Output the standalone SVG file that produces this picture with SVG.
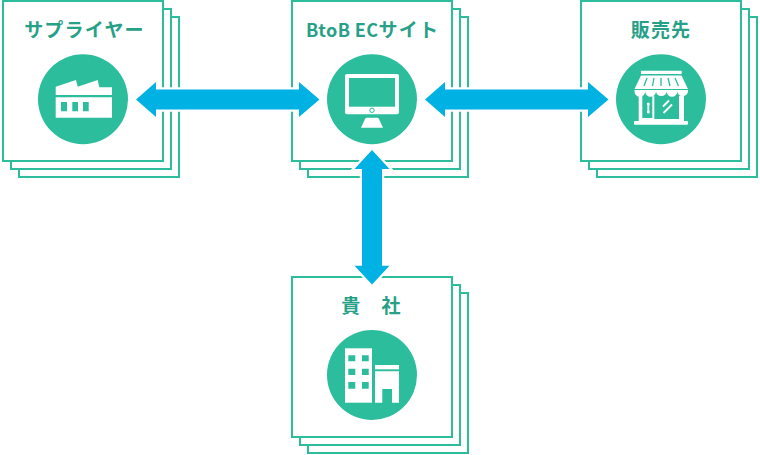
<svg xmlns="http://www.w3.org/2000/svg" width="760" height="455" viewBox="0 0 760 455">
<defs>
<style>
.s{fill:#fff;stroke:#2bbd9c;stroke-width:2}
.c{fill:#2bbd9c}
.w{fill:#fff}
.t{fill:#2bbd9c}
.l{font-family:"Noto Sans CJK JP","Noto Sans",sans-serif;font-weight:700;font-size:19px;fill:#27a088;text-anchor:middle;letter-spacing:1.2px}
.lat{letter-spacing:0.4px;font-size:18px}
.a{fill:#00b2e3;stroke:#fff;stroke-width:4.5;paint-order:stroke;stroke-linejoin:miter}
.ln{stroke:#2bbd9c;stroke-width:1.3;fill:none}
</style>
<g id="stack"><rect class="s" x="17" y="17" width="160" height="160"/><rect class="s" x="9" y="9" width="160" height="160"/><rect class="s" x="1" y="1" width="160" height="160"/></g>
</defs>
<rect width="760" height="455" fill="#fff"/>
<g id="supplier">
<use href="#stack" x="2"/>
<text class="l" x="84.500" y="37">サプライヤー</text>
<circle class="c" cx="83" cy="99.3" r="45"/>
<path class="w" d="M55.7 86.7L76 80L77.7 86.7L97.7 80L99.3 87.3H112V95H55.7Z"/>
<path class="w" d="M55.7 97.3H112V117.7H55.7Z"/>
<path class="t" d="M61 102h6v9.3h-6zM72.3 102h5.7v9.3h-5.7zM83 102h5.7v9.3h-5.7z"/>
</g>
<g id="btob">
<use href="#stack" x="291"/>
<text class="l" x="372.500" y="37"><tspan class="lat">BtoB EC</tspan>サイト</text>
<circle class="c" cx="372" cy="99.3" r="45"/>
<rect class="w" x="345" y="74" width="54" height="40.300" rx="2"/>
<rect class="t" x="349" y="78" width="46" height="28.700"/>
<circle cx="372" cy="110.300" r="2.200" fill="#fff" stroke="#2bbd9c" stroke-width="1"/>
<path class="w" d="M361 127.700L365 119Q365.500 117.700 367 117.700H377Q378.500 117.700 379 119L383 127.700Z"/>
</g>
<g id="hanbaisaki">
<use href="#stack" x="580"/>
<text class="l" x="661" y="37">販売先</text>
<circle class="c" cx="661" cy="99.3" r="45"/>
<rect class="w" x="641" y="70.700" width="40.700" height="3.300" rx="0.500"/>
<path class="w" d="M641 75.500H681.500L688 89H634.500Z"/>
<path class="ln" d="M647 78L644 86M654 78L652.500 86M661 78V86M668 78L670 86M675 78L678.500 86"/>
<path class="w" d="M634.500 90H688V91.500A5.400 5.200 0 0 1 677.300 91.500A5.300 5.200 0 0 1 666.700 91.500A5.400 5.200 0 0 1 656 91.500A5.400 5.200 0 0 1 645.200 91.500A5.350 5.200 0 0 1 634.500 91.500Z"/>
<path class="w" d="M638.700 94.500L642.300 96V121H638.700ZM652.300 96.500L654.300 96V121H652.300ZM679 96L684 94.500V121H679Z"/>
<rect class="w" x="642" y="118" width="11" height="3"/>
<rect class="w" x="654" y="119" width="26" height="2"/>
<path d="M648.300 104V112" stroke="#fff" stroke-width="1.800"/>
<circle class="w" cx="648.300" cy="104" r="1.500"/><circle class="w" cx="648.300" cy="112" r="1.500"/>
<path d="M663 106.500L669 100.500M663.500 113L672 104.500" stroke="#fff" stroke-width="2" fill="none"/>
<rect class="w" x="634" y="121" width="54" height="3.700" rx="1"/>
</g>
<g id="kisha">
<use href="#stack" x="291" y="276"/>
<text class="l" x="371.500" y="313" xml:space="preserve">貴　社</text>
<circle class="c" cx="372" cy="375" r="45"/>
<rect class="w" x="345" y="348.300" width="27" height="54.400"/>
<path class="t" d="M348.300 355.300h7v6h-7zM362 355.300h6.700v6h-6.700zM348.300 368.700h7v6.300h-7zM362 368.700h6.700v6.300h-6.700zM348.300 382h7v6.700h-7zM362 382h6.700v6.700h-6.700z"/>
<rect class="w" x="375" y="365" width="24" height="4.300"/>
<path class="w" d="M375 371.300H399V402.700H392V389H382.300V402.700H375Z"/>
</g>
<g id="connectors">
<path id="c1" class="a" d="M136 99.500L156 82V89.500H299V82L319.500 99.500L299 117V109.500H156V117Z"/>
<path id="c2" class="a" d="M425 99.500L445 82V89.500H588V82L608.500 99.500L588 117V109.500H445V117Z"/>
<path id="c3" class="a" d="M372 150L389.500 169H382V265.700H389.500L372 284.500L354.500 265.700H362V169H354.500Z"/>
</g>
</svg>
